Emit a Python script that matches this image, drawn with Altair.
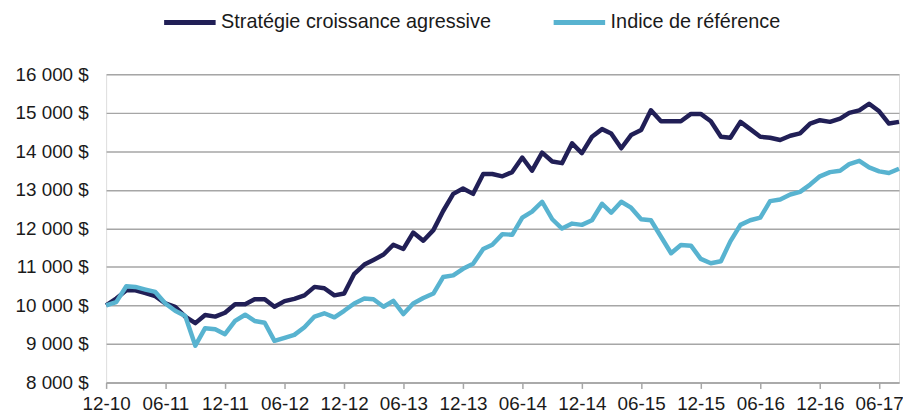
import altair as alt
import pandas as pd

months = [d.strftime("%Y-%m-%d") for d in pd.date_range("2010-12-01", periods=81, freq="MS")]

strategie = [10000, 10180, 10390, 10390, 10320, 10240, 10050, 9965, 9710, 9540, 9750, 9710, 9810, 10030, 10030, 10160, 10160,
             9965, 10110, 10170, 10260, 10480, 10445, 10260, 10310, 10820, 11060, 11180, 11320, 11575, 11465, 11890, 11680,
             11954, 12450, 12895, 13033, 12895, 13410, 13410, 13350, 13460, 13838, 13496, 13966, 13735, 13692, 14206, 13950,
             14378, 14575, 14463, 14078, 14420, 14550, 15064, 14781, 14781, 14781, 14970, 14970, 14781, 14378, 14352, 14764,
             14575, 14378, 14352, 14293, 14404, 14463, 14720, 14807, 14764, 14850, 14995, 15064, 15234, 15038, 14720, 14764]

indice = [10000, 10085, 10496, 10479, 10411, 10350, 10051, 9861, 9725, 8954, 9409, 9383, 9254, 9596, 9758, 9596, 9550,
          9080, 9160, 9235, 9435, 9710, 9795, 9690, 9860, 10050, 10180, 10160, 9965, 10120, 9775, 10050, 10190,
          10308, 10736, 10779, 10950, 11080, 11465, 11576, 11850, 11833, 12278, 12432, 12690, 12236, 11995, 12123, 12090,
          12210, 12638, 12407, 12690, 12536, 12236, 12210, 11781, 11353, 11568, 11550, 11208, 11095, 11147, 11661, 12090,
          12210, 12278, 12707, 12750, 12879, 12946, 13136, 13350, 13460, 13496, 13667, 13753, 13581, 13478, 13435, 13548]

series_names = ["Stratégie croissance agressive", "Indice de référence"]
series_colors = ["#211f56", "#58b3d0"]
y_ticks = [8000, 9000, 10000, 11000, 12000, 13000, 14000, 15000, 16000]

rows = []
for name, vals in zip(series_names, [strategie, indice]):
    for m, v in zip(months, vals):
        rows.append({"date": m, "serie": name, "valeur": v})
df = pd.DataFrame(rows)

FONT = "Liberation Sans"

x_values = [alt.DateTime(year=2010 + (11 + k * 6) // 12, month=(11 + k * 6) % 12 + 1, date=1, utc=True) for k in range(14)]

chart = alt.Chart(df).mark_line(strokeWidth=4.5, strokeJoin="round").encode(
    x=alt.X("date:T",
            scale=alt.Scale(type="utc", nice=False,
                            domain=[alt.DateTime(year=2010, month=12, date=1, utc=True),
                                    alt.DateTime(year=2017, month=8, date=1, utc=True)]),
            axis=alt.Axis(title=None, values=x_values, format="%m-%y", grid=False,
                          domainColor="#a6a6a6", domainWidth=1.5, tickColor="#a6a6a6", tickWidth=1.5,
                          tickSize=6, labelFontSize=19, labelFont=FONT, labelColor="#1a1a1a",
                          labelPadding=6, labelOverlap=False, labelFlush=False)),
    y=alt.Y("valeur:Q",
            scale=alt.Scale(domain=[8000, 16000], nice=False, zero=False),
            axis=alt.Axis(title=None, values=y_ticks, domain=False, ticks=False,
                          gridColor="#a6a6a6", gridWidth=1.5,
                          labelExpr="replace(format(datum.value, ','), ',', ' ') + ' $'",
                          labelFontSize=19, labelFont=FONT, labelColor="#1a1a1a", labelPadding=18)),
    color=alt.Color("serie:N",
                    scale=alt.Scale(domain=series_names, range=series_colors),
                    legend=alt.Legend(title=None, orient="none", direction="horizontal",
                                      legendX=56, legendY=-81,
                                      symbolType="stroke", symbolSize=2700, symbolStrokeWidth=5,
                                      labelFontSize=20, labelFont=FONT, labelColor="#1a1a1a",
                                      labelLimit=500, labelOffset=3, columnPadding=52)),
    order=alt.Order("serie:N", sort="descending"),
).properties(
    width=800, height=311,
    padding={"left": 99, "top": 65, "right": 4, "bottom": 30},
    autosize="none",
).configure_view(stroke=None).configure(background="white")

chart.save("out.html", embed_options={"renderer": "svg", "actions": False})
